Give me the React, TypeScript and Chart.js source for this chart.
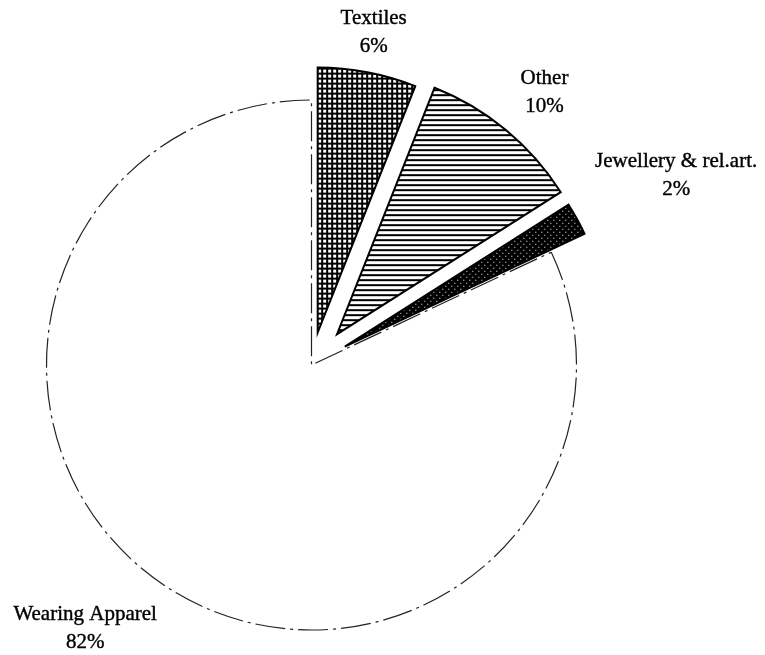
import React, { useEffect, useRef } from 'react';
import { Chart, registerables } from 'chart.js';

Chart.register(...registerables);

// ---- data ----
const categories = ['Textiles', 'Other', 'Jewellery & rel.art.', 'Wearing Apparel'];
const shares = [6, 10, 2, 82];
const percentLabels = ['6%', '10%', '2%', '82%'];

// ---- style ----
const explodeOffsets = [33, 40, 38, 0];
const labelDistance = [1.276, 1.354, 1.55, 1.31];
const labelAngleTweak = [-0.2, 0.9, 1.4, 8.3];
const LINE_GAP = 28;
const FONT = '21px "Liberation Serif", "Times New Roman", serif';
const WA_DASH = [30, 5, 3, 5];

function makePattern(kind: string): CanvasPattern | string {
  const c = document.createElement('canvas');
  const g = c.getContext('2d');
  if (!g) return '#888';
  if (kind === 'grid') {
    c.width = 5; c.height = 5;
    g.fillStyle = '#000'; g.fillRect(0, 0, 5, 5);
    g.fillStyle = '#fff'; g.fillRect(2, 2, 3, 3);
  } else if (kind === 'hlines') {
    c.width = 5; c.height = 5;
    g.fillStyle = '#fff'; g.fillRect(0, 0, 5, 5);
    g.fillStyle = '#000'; g.fillRect(0, 0, 5, 2);
  } else if (kind === 'dots') {
    c.width = 6; c.height = 6;
    g.fillStyle = '#000'; g.fillRect(0, 0, 6, 6);
    g.fillStyle = '#fff';
    g.fillRect(1, 1, 1, 1);
    g.fillRect(4, 4, 1, 1);
  } else {
    return '#fff';
  }
  const p = g.createPattern(c, 'repeat');
  return p || '#888';
}

const explodePlugin = {
  id: 'explodeSlices',
  beforeDatasetDraw(chart: any, args: any) {
    const ctx = chart.ctx as CanvasRenderingContext2D;
    const arcs = args.meta.data;
    const order = [3, 0, 1, 2];
    for (const i of order) {
      const arc = arcs[i];
      if (!arc) continue;
      const mid = (arc.startAngle + arc.endAngle) / 2;
      const d = explodeOffsets[i] || 0;
      ctx.save();
      ctx.translate(Math.cos(mid) * d, Math.sin(mid) * d);
      if (i === 3) ctx.setLineDash(WA_DASH);
      arc.draw(ctx);
      ctx.restore();
    }
    return false;
  },
};

const labelPlugin = {
  id: 'sliceLabels',
  afterDraw(chart: any) {
    const ctx = chart.ctx as CanvasRenderingContext2D;
    const arcs = chart.getDatasetMeta(0).data;
    ctx.save();
    ctx.font = FONT;
    ctx.fillStyle = '#000';
    ctx.strokeStyle = '#000';
    ctx.lineWidth = 0.4;
    ctx.textAlign = 'center';
    ctx.textBaseline = 'middle';
    arcs.forEach((arc: any, i: number) => {
      const a = (arc.startAngle + arc.endAngle) / 2 + (labelAngleTweak[i] * Math.PI) / 180;
      const d = arc.outerRadius * labelDistance[i];
      const cx = arc.x + Math.cos(a) * d;
      const cy = arc.y + Math.sin(a) * d;
      ctx.fillText(categories[i], cx, cy - LINE_GAP / 2);
      ctx.strokeText(categories[i], cx, cy - LINE_GAP / 2);
      ctx.fillText(percentLabels[i], cx, cy + LINE_GAP / 2);
      ctx.strokeText(percentLabels[i], cx, cy + LINE_GAP / 2);
    });
    ctx.restore();
  },
};

export default function App() {
  const ref = useRef<HTMLCanvasElement | null>(null);

  useEffect(() => {
    if (!ref.current) return;
    const fills = [makePattern('grid'), makePattern('hlines'), makePattern('dots'), '#ffffff'];
    const chart = new Chart(ref.current, {
      type: 'pie',
      data: {
        labels: categories,
        datasets: [
          {
            data: shares,
            backgroundColor: fills as any,
            borderColor: ['#000', '#000', '#000', '#222'],
            borderWidth: [2, 2, 2, 1.2],
            hoverBorderWidth: [2, 2, 2, 1.2],
            hoverOffset: 0,
            offset: 0,
            borderJoinStyle: 'miter',
            borderDash: ((c: any) => (c.dataIndex === 3 ? WA_DASH : [])) as any,
          } as any,
        ],
      },
      options: {
        responsive: false,
        animation: false,
        devicePixelRatio: 1,
        events: [],
        layout: { padding: { left: 45, top: 99, right: 187, bottom: 24 } },
        plugins: {
          legend: { display: false },
          tooltip: { enabled: false },
          title: { display: false },
        },
      },
      plugins: [explodePlugin, labelPlugin],
    });
    return () => chart.destroy();
  }, []);

  return (
    <div style={{ position: 'absolute', left: 0, top: 0, width: 765, height: 655, background: '#fff' }}>
      <canvas ref={ref} width={765} height={655} style={{ display: 'block' }} />
    </div>
  );
}
